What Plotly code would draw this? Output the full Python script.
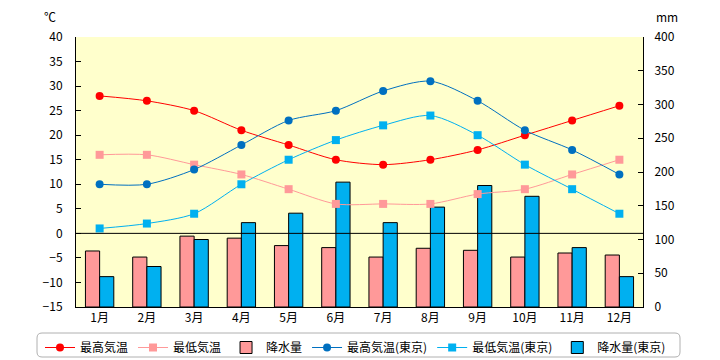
import plotly.graph_objects as go

months = ["1月", "2月", "3月", "4月", "5月", "6月", "7月", "8月", "9月", "10月", "11月", "12月"]
max_temp = [28, 27, 25, 21, 18, 15, 14, 15, 17, 20, 23, 26]
min_temp = [16, 16, 14, 12, 9, 6, 6, 6, 8, 9, 12, 15]
precip = [83, 74, 105, 102, 91, 88, 74, 87, 84, 74, 80, 77]
max_temp_tokyo = [10, 10, 13, 18, 23, 25, 29, 31, 27, 21, 17, 12]
min_temp_tokyo = [1, 2, 4, 10, 15, 19, 22, 24, 20, 14, 9, 4]
precip_tokyo = [45, 60, 100, 125, 139, 185, 125, 148, 180, 164, 88, 45]

FONT = "Noto Sans CJK JP, DejaVu Sans, sans-serif"

fig = go.Figure()

# bars on base axis (right, mm)
fig.add_trace(go.Bar(x=months, y=precip, name="降水量", yaxis="y",
                     marker=dict(color="#FF9999", line=dict(color="black", width=1)),
                     legendrank=3))
fig.add_trace(go.Bar(x=months, y=precip_tokyo, name="降水量(東京)", yaxis="y",
                     marker=dict(color="#00B0F0", line=dict(color="black", width=1)),
                     legendrank=6))

# lines on overlay axis (left, ℃)
def line(y, name, color, symbol, rank):
    return go.Scatter(x=months, y=y, name=name, yaxis="y2", mode="lines+markers",
                      line=dict(color=color, width=1, shape="spline", smoothing=0.8),
                      marker=dict(color=color, size=8, symbol=symbol),
                      legendrank=rank)

fig.add_trace(line(max_temp, "最高気温", "#FF0000", "circle", 1))
fig.add_trace(line(min_temp, "最低気温", "#FF9999", "square", 2))
fig.add_trace(line(max_temp_tokyo, "最高気温(東京)", "#0070C0", "circle", 4))
fig.add_trace(line(min_temp_tokyo, "最低気温(東京)", "#00B0F0", "square", 5))

# page body has an 8px margin: figure is 712x352, offset by 8px
OFF = 8
W, H = 720 - OFF, 360 - OFF
L, T = 76 - OFF, 37 - OFF
R, B = 720 - 643, 360 - 307
PW, PH = 643 - 76, 307 - 37

x0, x1 = (37 - 76) / PW, (680 - 76) / PW
y0, y1 = -(357 - 307) / PH, -(333 - 307) / PH
rx, ry = 5 / PW, 5 / PH
path = (f"M {x0+rx},{y1} L {x1-rx},{y1} Q {x1},{y1} {x1},{y1-ry} L {x1},{y0+ry} "
        f"Q {x1},{y0} {x1-rx},{y0} L {x0+rx},{y0} Q {x0},{y0} {x0},{y0+ry} "
        f"L {x0},{y1-ry} Q {x0},{y1} {x0+rx},{y1} Z")

fig.update_layout(
    width=W, height=H,
    margin=dict(l=L, r=R, t=T, b=B, autoexpand=False),
    paper_bgcolor="white",
    plot_bgcolor="#FFFFCC",
    font=dict(family=FONT, size=12, color="black"),
    barmode="group", bargap=0.4, bargroupgap=0,
    showlegend=True,
    legend=dict(orientation="h", x=(40 - 76) / PW, xanchor="left", y=y1, yanchor="top",
                traceorder="normal", font=dict(size=12), bgcolor="rgba(0,0,0,0)",
                itemwidth=30),
    xaxis=dict(showline=True, linecolor="black", linewidth=1, ticks="",
               showgrid=False, tickfont=dict(size=12), range=[-0.5, 11.5]),
    yaxis=dict(side="right", range=[0, 400], dtick=50, showline=True, linecolor="black",
               linewidth=1, ticks="inside", ticklen=5, tickcolor="black", showgrid=False,
               zeroline=False, ticklabelstandoff=8),
    yaxis2=dict(side="left", overlaying="y", range=[-15, 40], dtick=5, showline=True,
                linecolor="black", linewidth=1, ticks="inside", ticklen=5, tickcolor="black",
                showgrid=False, zeroline=False, ticklabelstandoff=10,
                tickformat="d"),
    shapes=[
        dict(type="line", xref="paper", yref="y2", x0=0, x1=1, y0=0, y1=0,
             line=dict(color="black", width=1), layer="above"),
        dict(type="path", xref="paper", yref="paper", path=path,
             line=dict(color="#B0B0B0", width=1), fillcolor="rgba(0,0,0,0)"),
    ],
    annotations=[
        dict(text="℃", xref="paper", yref="paper", x=(50 - 76) / PW, y=(307 - 17) / PH,
             showarrow=False, xanchor="center", yanchor="middle", font=dict(size=12)),
        dict(text="mm", xref="paper", yref="paper", x=(667 - 76) / PW, y=(307 - 17) / PH,
             showarrow=False, xanchor="center", yanchor="middle", font=dict(size=12)),
    ],
)

fig.write_html("out.html")
